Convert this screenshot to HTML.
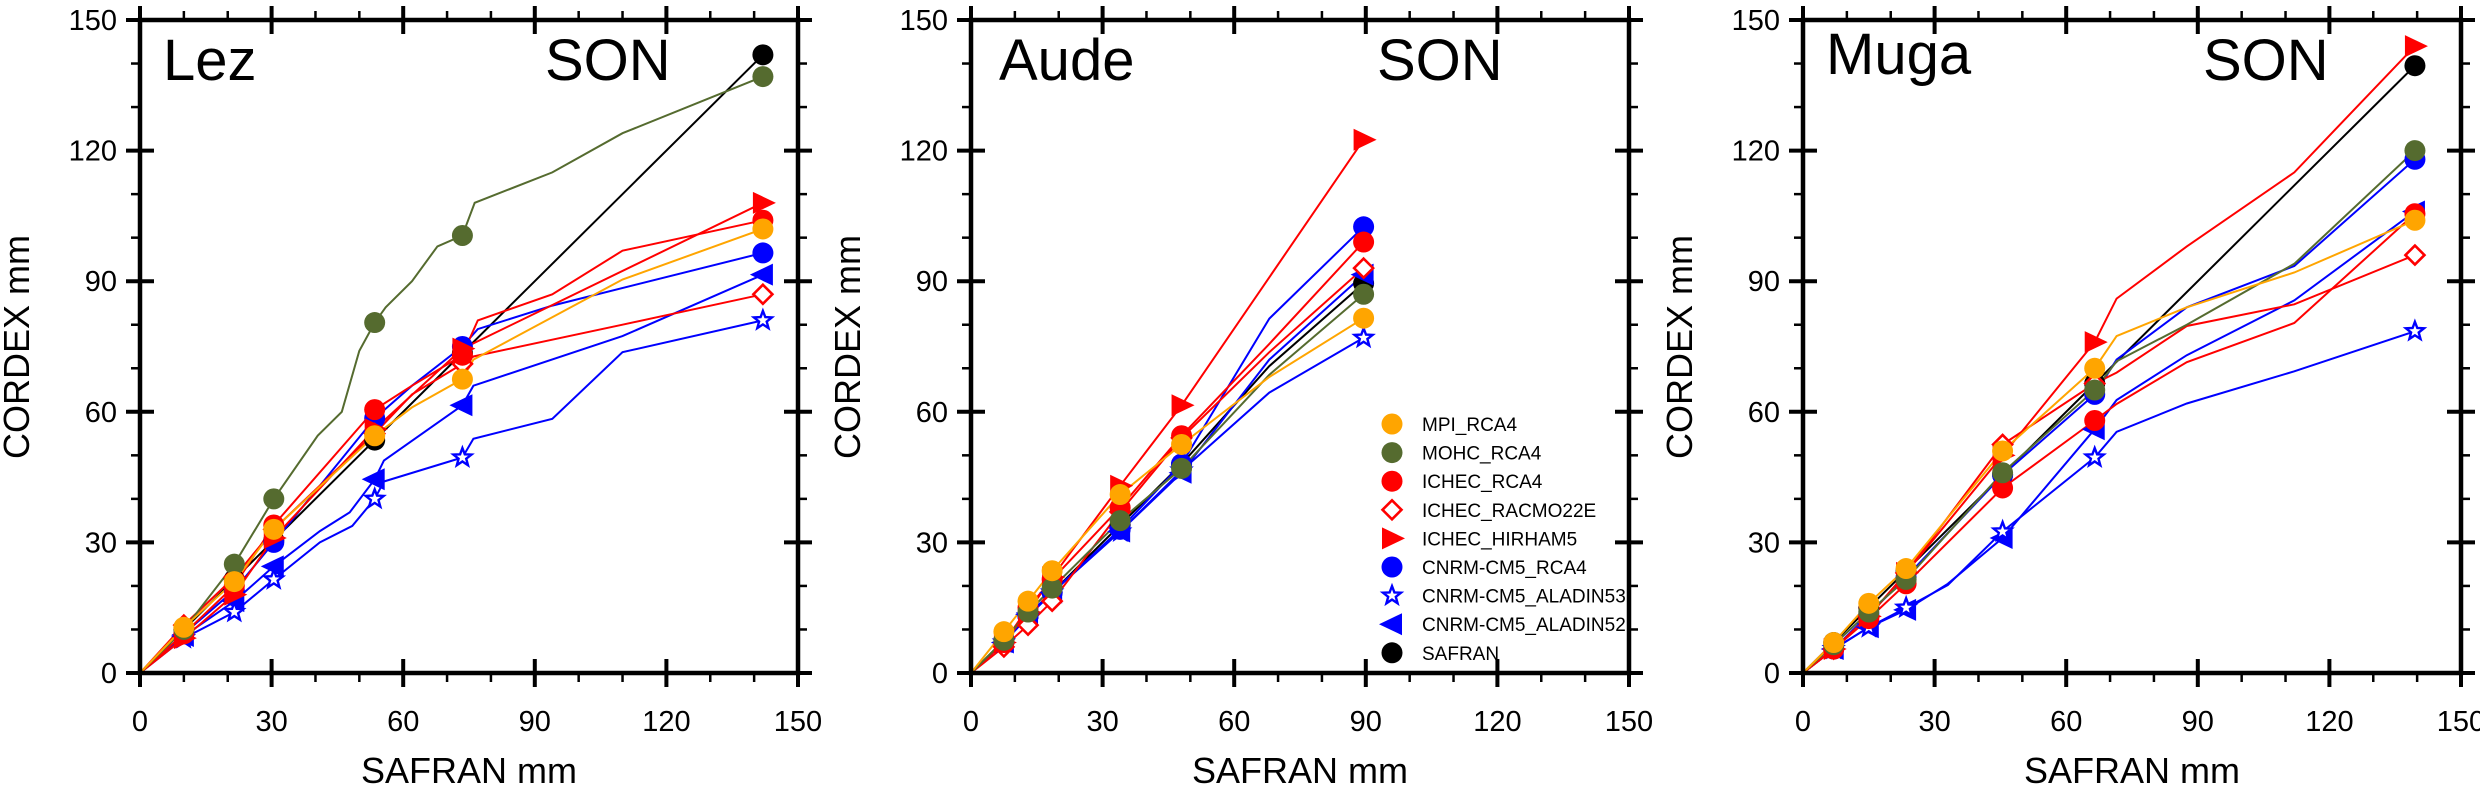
<!DOCTYPE html>
<html><head><meta charset="utf-8"><style>
html,body{margin:0;padding:0;background:#fff;}
svg{display:block;font-family:"Liberation Sans",Arial,sans-serif;}
</style></head><body>
<svg id="chart" width="2480" height="789" viewBox="0 0 2480 789" xmlns="http://www.w3.org/2000/svg"></svg>
<script>
// ---- data ----
const seriesNames = ["MPI_RCA4","MOHC_RCA4","ICHEC_RCA4","ICHEC_RACMO22E","ICHEC_HIRHAM5","CNRM-CM5_RCA4","CNRM-CM5_ALADIN53","CNRM-CM5_ALADIN52","SAFRAN"];
const axisTicks = [0,30,60,90,120,150];
const panelNames = ["Lez","Aude","Muga"];

// Lez
const lezX = [10,21.5,30.5,53.5,73.5,142];
const lez_MPI = [10.5,21,33,54.5,67.5,102];
const lez_MPI_ex = [62,76,110]; const lez_MPI_ey = [61,72,90.4];
const lez_MOHC = [10,25,40,80.5,100.5,137];
const lez_MOHC_ex = [40.5,46,50,56,62,67.8,76.3,94,110]; const lez_MOHC_ey = [54.5,60,74,84,90,98,108,115,124];
const lez_RCA = [9,20,34,60.5,73,104];
const lez_RCA_ex = [62,77,94,110]; const lez_RCA_ey = [66,81,87,97];
const lez_RAC = [11,22,33,55,71,87];
const lez_RAC_ex = [62,76,110]; const lez_RAC_ey = [64,72.7,80];
const lez_HIR = [8,18,31,56,74.5,108];
const lez_HIR_ex = []; const lez_HIR_ey = [];
const lez_CRC = [9,19,30,58.5,75,96.5];
const lez_CRC_ex = [62,77,94]; const lez_CRC_ey = [66,79,84.4];
const lez_A53 = [8,14,21.5,40,49.5,81];
const lez_A53_ex = [41,48.4,55.6,76,94,110]; const lez_A53_ey = [30,33.8,44,53.8,58.4,73.7];
const lez_A52 = [8.5,16.5,24.5,44.5,61.5,91.5];
const lez_A52_ex = [41,47.8,55.6,76,110]; const lez_A52_ey = [32.6,36.9,48.8,66,77.4];
const lez_SAF = [10,21.5,30.5,53.5,73.5,142];
const lez_SAF_ex = []; const lez_SAF_ey = [];

// Aude
const audeX = [7.5,13,18.5,34,48,89.5];
const aude_MPI = [9.5,16.5,23.5,41,52.5,81.5]; const aude_MPI_ex=[68]; const aude_MPI_ey=[68];
const aude_MOHC = [7.5,14,19.5,35,47,87]; const aude_MOHC_ex=[68]; const aude_MOHC_ey=[68.5];
const aude_RCA = [7,15,21.5,38,54.5,99]; const aude_RCA_ex=[68]; const aude_RCA_ey=[75.6];
const aude_RAC = [6,11,16.5,37,54,93]; const aude_RAC_ex=[68]; const aude_RAC_ey=[73.7];
const aude_HIR = [7,14,22,43,61.5,122.5]; const aude_HIR_ex=[]; const aude_HIR_ey=[];
const aude_CRC = [7,13,18.5,33,48,102.5]; const aude_CRC_ex=[68]; const aude_CRC_ey=[81.4];
const aude_A53 = [7,13,18.5,32.5,46.5,77]; const aude_A53_ex=[68]; const aude_A53_ey=[64.4];
const aude_A52 = [7,13.5,18.5,32.5,46,91.5]; const aude_A52_ex=[68]; const aude_A52_ey=[72];
const aude_SAF = [7.5,13,18.5,34,48,89.5]; const aude_SAF_ex=[68]; const aude_SAF_ey=[70.5];

// Muga
const mugaX = [7,15,23.5,45.5,66.5,139.5];
const muga_MPI = [7,16,24,51,70,104]; const muga_MPI_ex=[71.5,87.5,112]; const muga_MPI_ey=[77.4,84,92];
const muga_MOHC = [6.5,14,21.5,46,65,120]; const muga_MOHC_ex=[71.5,87.5,112]; const muga_MOHC_ey=[71.6,80,94];
const muga_RCA = [5.5,12.5,20.5,42.5,58,105.5]; const muga_RCA_ex=[71.5,87.5,112]; const muga_RCA_ey=[61.8,71.4,80.4];
const muga_RAC = [5.5,13,23,52.5,66.5,96]; const muga_RAC_ex=[71.5,87.5,112]; const muga_RAC_ey=[69,79.7,84.7];
const muga_HIR = [5.5,13,23,50,76,144]; const muga_HIR_ex=[71.5,87.5,112]; const muga_HIR_ey=[86,98,115];
const muga_CRC = [5.5,13.5,22,45.5,64,118]; const muga_CRC_ex=[71.5,87.5,112]; const muga_CRC_ey=[72,84,93.5];
const muga_A53 = [5.5,10.5,15,32.5,49.5,78.5]; const muga_A53_ex=[33,71.5,87.5,112]; const muga_A53_ey=[20.2,55.4,61.9,69.3];
const muga_A52 = [5.5,10.5,14.5,31,56,106]; const muga_A52_ex=[33,71.5,87.5,112]; const muga_A52_ey=[20.5,62.7,73,85.6];
const muga_SAF = [7,15,23.5,45.5,66.5,139.5]; const muga_SAF_ex=[]; const muga_SAF_ey=[];

// ---- styles ----
const styles = [
 {c:"#FFA500",m:"circle"},{c:"#556B2F",m:"circle"},{c:"#FF0000",m:"circle"},{c:"#FF0000",m:"diamond"},
 {c:"#FF0000",m:"tright"},{c:"#0000FF",m:"circle"},{c:"#0000FF",m:"star"},{c:"#0000FF",m:"tleft"},{c:"#000000",m:"circle"}];
const NS="http://www.w3.org/2000/svg";
const svg=document.getElementById('chart');
function mk(tag,attrs,parent){const e=document.createElementNS(NS,tag);for(const k in attrs)e.setAttribute(k,attrs[k]);(parent||svg).appendChild(e);return e;}

const panels=[
 {name:"lez",label:"Lez",left:140,son:545,lx:163,ly:80,X:lezX,s:[[lez_MPI,lez_MPI_ex,lez_MPI_ey],[lez_MOHC,lez_MOHC_ex,lez_MOHC_ey],[lez_RCA,lez_RCA_ex,lez_RCA_ey],[lez_RAC,lez_RAC_ex,lez_RAC_ey],[lez_HIR,lez_HIR_ex,lez_HIR_ey],[lez_CRC,lez_CRC_ex,lez_CRC_ey],[lez_A53,lez_A53_ex,lez_A53_ey],[lez_A52,lez_A52_ex,lez_A52_ey],[lez_SAF,lez_SAF_ex,lez_SAF_ey]]},
 {name:"aude",label:"Aude",left:971,son:1377,lx:999,ly:80,X:audeX,s:[[aude_MPI,aude_MPI_ex,aude_MPI_ey],[aude_MOHC,aude_MOHC_ex,aude_MOHC_ey],[aude_RCA,aude_RCA_ex,aude_RCA_ey],[aude_RAC,aude_RAC_ex,aude_RAC_ey],[aude_HIR,aude_HIR_ex,aude_HIR_ey],[aude_CRC,aude_CRC_ex,aude_CRC_ey],[aude_A53,aude_A53_ex,aude_A53_ey],[aude_A52,aude_A52_ex,aude_A52_ey],[aude_SAF,aude_SAF_ex,aude_SAF_ey]]},
 {name:"muga",label:"Muga",left:1803,son:2203,lx:1826,ly:74,X:mugaX,s:[[muga_MPI,muga_MPI_ex,muga_MPI_ey],[muga_MOHC,muga_MOHC_ex,muga_MOHC_ey],[muga_RCA,muga_RCA_ex,muga_RCA_ey],[muga_RAC,muga_RAC_ex,muga_RAC_ey],[muga_HIR,muga_HIR_ex,muga_HIR_ey],[muga_CRC,muga_CRC_ex,muga_CRC_ey],[muga_A53,muga_A53_ex,muga_A53_ey],[muga_A52,muga_A52_ex,muga_A52_ey],[muga_SAF,muga_SAF_ex,muga_SAF_ey]]}
];
const TOP=20,BOT=673,W=658;

function marker(g,type,cx,cy,color){
  if(type==="circle") return mk('circle',{cx:cx,cy:cy,r:10.5,fill:color},g);
  if(type==="diamond") return mk('polygon',{points:`${cx},${cy-9.5} ${cx+9.5},${cy} ${cx},${cy+9.5} ${cx-9.5},${cy}`,fill:"#fff",stroke:color,"stroke-width":2.6},g);
  if(type==="tright") return mk('polygon',{points:`${cx-10},${cy-11} ${cx+13},${cy} ${cx-10},${cy+11}`,fill:color},g);
  if(type==="tleft") return mk('polygon',{points:`${cx+10},${cy-11} ${cx-13},${cy} ${cx+10},${cy+11}`,fill:color},g);
  if(type==="star"){let p=[];for(let i=0;i<10;i++){const r=i%2?4:9.5;const a=-Math.PI/2+i*Math.PI/5;p.push((cx+r*Math.cos(a)).toFixed(1)+","+(cy+r*Math.sin(a)).toFixed(1));}
    return mk('polygon',{points:p.join(" "),fill:"#fff",stroke:color,"stroke-width":2.4},g);}
}

const drawOrder=[8,7,6,5,4,3,2,1,0];
panels.forEach(P=>{
  const L=P.left,R=L+W;
  const sx=v=>L+v/150*W, sy=v=>BOT-v/150*(BOT-TOP);
  const g=mk('g',{});
  
  
  const tg=mk('g',{stroke:"#000"},g);
  
  
  for(let v=0;v<=150;v+=10){
    const major=v%30===0;
    const xi=sx(v), yi=sy(v);
    const ins=major?14:0, out=major?14:9, w=major?4:2.5;
    mk('line',{x1:xi,y1:BOT-ins,x2:xi,y2:BOT+out,"stroke-width":w},tg);
    mk('line',{x1:xi,y1:TOP+ins,x2:xi,y2:TOP-out,"stroke-width":w},tg);
    mk('line',{x1:L+ins,y1:yi,x2:L-out,y2:yi,"stroke-width":w},tg);
    mk('line',{x1:R-ins,y1:yi,x2:R+out,y2:yi,"stroke-width":w},tg);
  }
  axisTicks.forEach(v=>{
    const t=mk('text',{x:sx(v),y:sy(0)+58,"font-size":29,"text-anchor":"middle"},g);t.textContent=v;
    
    
    const t2=mk('text',{x:L-23,y:sy(v)+10,"font-size":29,"text-anchor":"end"},g);t2.textContent=v;
    
    
  });
  const xt=mk('text',{x:L+W/2,y:783,"font-size":36,"text-anchor":"middle"},g);xt.textContent="SAFRAN mm";
  
  
  const yx=L-111;
  const yt=mk('text',{x:yx,y:347,"font-size":36,"text-anchor":"middle",transform:`rotate(-90 ${yx} 347)`},g);yt.textContent="CORDEX mm";
  
  
  const lab=mk('text',{x:P.lx,y:P.ly,"font-size":58},g);lab.textContent=P.label;
  
  
  const son=mk('text',{x:P.son,y:80,"font-size":58},g);son.textContent="SON";
  
  
  drawOrder.forEach(i=>{
    const s=P.s[i];
    const pts=[[0,0]];P.X.forEach((x,k)=>pts.push([x,s[0][k]]));s[1].forEach((x,k)=>pts.push([x,s[2][k]]));
    pts.sort((a,b)=>a[0]-b[0]);
    const pl=mk('polyline',{points:pts.map(p=>sx(p[0]).toFixed(1)+","+sy(p[1]).toFixed(1)).join(" "),fill:"none",stroke:styles[i].c,"stroke-width":2},g);
    
    
  });
  drawOrder.forEach(i=>{
    const s=P.s[i];
    P.X.forEach((x,k)=>{
      const m=marker(g,styles[i].m,sx(x),sy(s[0][k]),styles[i].c);
      
      
    });
  });
  const fr=mk('rect',{x:L,y:TOP,width:W,height:BOT-TOP,fill:"none",stroke:"#000","stroke-width":4.5},g);
  
  
});

const lg=mk('g',{});


seriesNames.forEach((n,i)=>{
  const y=424+i*28.6;
  const m=marker(lg,styles[i].m,1392,y,styles[i].c);
  
  
  const t=mk('text',{x:1422,y:y+7,"font-size":19},lg);t.textContent=n;
  
  
});
</script>
</body></html>
